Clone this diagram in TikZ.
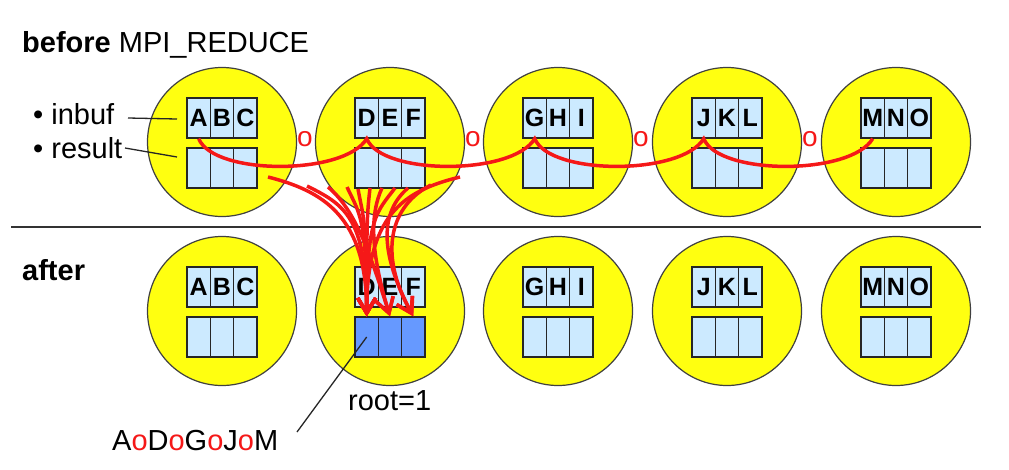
\documentclass[tikz,border=0pt]{standalone}
\usepackage{fontspec}
\setmainfont{Liberation Sans}
\usetikzlibrary{arrows.meta}
\definecolor{cellblue}{RGB}{204,234,255}
\definecolor{rootblue}{RGB}{102,153,255}
\definecolor{procyellow}{RGB}{255,255,16}
\definecolor{redc}{RGB}{245,24,24}
\begin{document}
\begin{tikzpicture}[x=1pt,y=-1pt,
  proc/.style={circle, draw=black!75, line width=1.2pt, fill=procyellow, minimum size=149pt, inner sep=0pt},
  cell/.style={draw=black!85, line width=1.3pt, fill=cellblue, minimum width=23.3pt, minimum height=40pt, inner sep=0pt, font=\fontsize{25}{25}\selectfont\bfseries},
  rootcell/.style={cell, fill=rootblue},
  redline/.style={draw=redc, line width=3.5pt},
  fan/.style={redline, -{Straight Barb[length=15pt,width=18pt]}},
  ocirc/.style={text=redc, font=\fontsize{28}{28}\selectfont, inner sep=0pt},
  big/.style={font=\fontsize{29}{34}\selectfont, inner sep=0pt},
  leader/.style={draw=black!85, line width=1.3pt}]
\useasboundingbox (0,0) rectangle (1009,469);

% titles
\node[big, anchor=base west] (title) at (22,52) {\textbf{before} MPI\_REDUCE};
\node[big, anchor=base west] (after) at (22,280) {\textbf{after}};
\node[big, anchor=base west] (linbuf) at (33,124) {\textbullet\ inbuf};
\node[big, anchor=base west] (lresult) at (33,158) {\textbullet\ result};

% separator
\coordinate (sepL) at (11,227);
\coordinate (sepR) at (981,227);
\draw[draw=black!80, line width=1.3pt] (sepL) -- (sepR);

% processes
\foreach \i/\cx/\la/\lb/\lc in {1/222/A/B/C, 2/390/D/E/F, 3/558/G/H/I, 4/727/J/K/L, 5/896/M/N/O} {
  \node[proc] (p\i) at (\cx,142) {};
  \node[cell] (p\i-a) at (\cx-23.3,118) {\la};
  \node[cell] (p\i-b) at (\cx,118) {\lb};
  \node[cell] (p\i-c) at (\cx+23.3,118) {\lc};
  \node[cell] (p\i-r1) at (\cx-23.3,168) {};
  \node[cell] (p\i-r2) at (\cx,168) {};
  \node[cell] (p\i-r3) at (\cx+23.3,168) {};
  \node[proc] (q\i) at (\cx,311) {};
  \node[cell] (q\i-a) at (\cx-23.3,287) {\la};
  \node[cell] (q\i-b) at (\cx,287) {\lb};
  \node[cell] (q\i-c) at (\cx+23.3,287) {\lc};
}
\foreach \i in {1,3,4,5} {
  \node[cell] (q\i-r1) at ([xshift=-23.3pt,yshift=-50pt]q\i-b) {};
  \node[cell] (q\i-r2) at ([yshift=-50pt]q\i-b) {};
  \node[cell] (q\i-r3) at ([xshift=23.3pt,yshift=-50pt]q\i-b) {};
}
\node[rootcell] (q2-r1) at (366.7,337) {};
\node[rootcell] (q2-r2) at (390,337) {};
\node[rootcell] (q2-r3) at (413.3,337) {};

% leader lines
\coordinate (inbA) at (128,118);
\coordinate (inbB) at (177,119);
\coordinate (resA) at (125,148);
\coordinate (resB) at (177,157);
\draw[leader] (inbA) -- (inbB);
\draw[leader] (resA) -- (resB);

% reduction curve in top row
\draw[redline] (p1-a.south)
  .. controls +(15,37) and +(-22,37) .. (p2-a.south)
  .. controls +(15,37) and +(-22,37) .. (p3-a.south)
  .. controls +(15,37) and +(-22,37) .. (p4-a.south)
  .. controls +(15,37) and +(-22,37) .. (p5-a.south);

% operator symbols
\node[ocirc] (o1) at (305,139) {o};
\node[ocirc] (o2) at (473,139) {o};
\node[ocirc] (o3) at (641,139) {o};
\node[ocirc] (o4) at (810,139) {o};

% fan into root
\coordinate (f1) at (268,177);
\coordinate (f2) at (307,186);
\coordinate (f3) at (328,187);
\coordinate (f4) at (347,187);
\coordinate (f5) at (358,189);
\coordinate (f6) at (370,188);
\coordinate (f7) at (382,188);
\coordinate (f8) at (395,188);
\coordinate (f9) at (408,188);
\coordinate (f10) at (431,185);
\coordinate (f11) at (460,177);
\draw[fan] (f1) .. controls +(55,14) and +(0,-100) .. (q2-r1.north);
\draw[fan] (f2) .. controls +(36,18) and +(0,-100) .. (q2-r1.north);
\draw[fan] (f3) .. controls +(26,22) and +(-22,-70) .. (q2-r2.north);
\draw[fan] (f4) .. controls +(12,26) and +(0,-100) .. (q2-r1.north);
\draw[fan] (f5) .. controls +(5,28) and +(0,-100) .. (q2-r1.north);
\draw[fan] (f6) .. controls +(-3,28) and +(0,-100) .. (q2-r1.north);
\draw[fan] (f7) .. controls +(-12,26) and +(-20,-66) .. (q2-r2.north);
\draw[fan] (f8) .. controls +(-18,24) and +(0,-100) .. (q2-r1.north);
\draw[fan] (f9) .. controls +(-28,24) and +(-34,-64) .. (q2-r3.north);
\draw[fan] (f10) .. controls +(-40,20) and +(-36,-64) .. (q2-r3.north);
\draw[fan] (f11) .. controls +(-58,14) and +(0,-100) .. (q2-r1.north);

% result label
\node[big, anchor=base west] (root) at (348,410) {root=1};
\node[big, anchor=base west] (lab) at (112,450) {A\textcolor{redc}{o}D\textcolor{redc}{o}G\textcolor{redc}{o}J\textcolor{redc}{o}M};
\coordinate (labEnd) at (297,432);
\draw[leader] (labEnd) -- (q2-r1.center);
\end{tikzpicture}
\end{document}
